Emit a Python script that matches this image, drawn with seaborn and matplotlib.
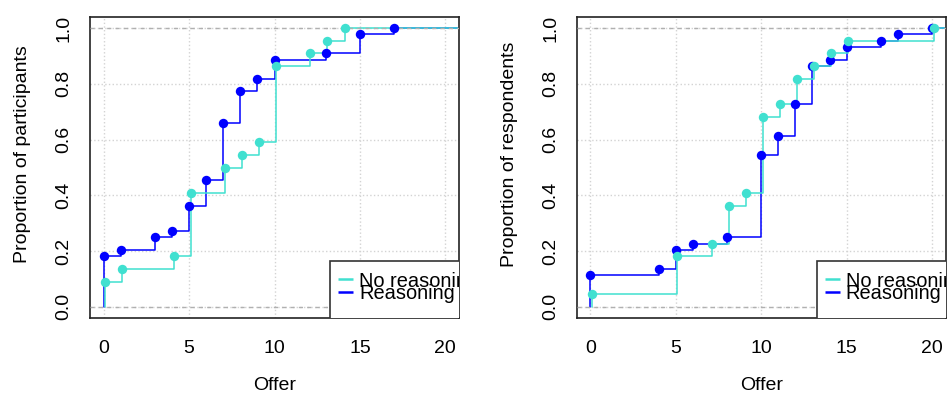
import numpy as np
import pandas as pd
import matplotlib
matplotlib.use("Agg")
import matplotlib.pyplot as plt
import seaborn as sns
from matplotlib.patches import Rectangle

# Offers and how many people sit at each offer, per condition
groups = ["No reasoning", "Reasoning"]
palette = {"No reasoning": "#40E0D0", "Reasoning": "#0000FF"}

proposer_offers_noreason = [0, 1, 4, 5, 7, 8, 9, 10, 12, 13, 14]
proposer_counts_noreason = [2, 1, 1, 5, 2, 1, 1, 6, 1, 1, 1]
proposer_offers_reason = [0, 1, 3, 4, 5, 6, 7, 8, 9, 10, 13, 15, 17]
proposer_counts_reason = [8, 1, 2, 1, 4, 4, 9, 5, 2, 3, 1, 3, 1]

responder_offers_noreason = [0, 5, 7, 8, 9, 10, 11, 12, 13, 14, 15, 20]
responder_counts_noreason = [1, 3, 1, 3, 1, 6, 1, 2, 1, 1, 1, 1]
responder_offers_reason = [0, 4, 5, 6, 8, 10, 11, 12, 13, 14, 15, 17, 18, 20]
responder_counts_reason = [5, 1, 3, 1, 1, 13, 3, 5, 6, 1, 2, 1, 1, 1]

ylabels = ["Proportion of participants", "Proportion of respondents"]
xlabel = "Offer"
x_ticks = [0, 5, 10, 15, 20]
y_ticks = [0.0, 0.2, 0.4, 0.6, 0.8, 1.0]

# small horizontal nudge so overlapping steps stay visible
nudge = {"No reasoning": 0.1, "Reasoning": 0.0}

panels = [
    {"No reasoning": (proposer_offers_noreason, proposer_counts_noreason),
     "Reasoning": (proposer_offers_reason, proposer_counts_reason)},
    {"No reasoning": (responder_offers_noreason, responder_counts_noreason),
     "Reasoning": (responder_offers_reason, responder_counts_reason)},
]

sns.set_theme(style="white")
plt.rcParams["font.family"] = ["Liberation Sans", "DejaVu Sans"]
plt.rcParams["font.size"] = 14

W, H = 949, 398
fig = plt.figure(figsize=(W / 100, H / 100), dpi=100)
ax_rects = [
    [90 / W, (H - 318) / H, 369 / W, 301 / H],
    [576.7 / W, (H - 318) / H, 369 / W, 301 / H],
]

XLIM = (-0.8, 20.8)
YLIM = (-0.04, 1.04)

for rect, pdata, ylab in zip(ax_rects, panels, ylabels):
    ax = fig.add_axes(rect)
    ax.set_xlim(*XLIM)
    ax.set_ylim(*YLIM)

    ax.grid(True, color="#D3D3D3", linestyle=":", linewidth=1.0)
    ax.set_axisbelow(True)

    for g in ["Reasoning", "No reasoning"]:
        offers, counts = pdata[g]
        raw = pd.DataFrame({"offer": np.repeat(np.asarray(offers, float) + nudge[g], counts)})
        sns.ecdfplot(data=raw, x="offer", ax=ax, color=palette[g], linewidth=1.1, zorder=2)
        # carry the top of the step out to the right edge
        xmax = raw["offer"].max()
        ax.plot([xmax, XLIM[1]], [1, 1], color=palette[g], linewidth=1.1, zorder=2)
        steps = pd.DataFrame({
            "offer": np.asarray(offers, float) + nudge[g],
            "prop": np.cumsum(counts) / np.sum(counts),
        })
        sns.scatterplot(data=steps, x="offer", y="prop", ax=ax, color=palette[g],
                        s=46, linewidth=0, zorder=4)

    for yv in (0, 1):
        ax.axhline(yv, color="#B0B0B0", linestyle=(0, (3, 3)), linewidth=1.0, zorder=3)

    ax.set_xticks(x_ticks)
    ax.set_yticks(y_ticks)
    ax.set_xticklabels([str(t) for t in x_ticks])
    ax.set_yticklabels([f"{t:.1f}" for t in y_ticks], rotation=90, va="center")
    ax.tick_params(axis="both", which="both", direction="out", length=7, width=1.1,
                   color="black", labelsize=14, labelcolor="black")
    ax.tick_params(axis="x", pad=9)
    ax.tick_params(axis="y", pad=5.5)

    ax.set_xlabel(xlabel, fontsize=14, color="black")
    ax.set_ylabel(ylab, fontsize=14, color="black")
    ax.xaxis.set_label_coords(0.5, -0.196)
    ax.yaxis.set_label_coords(-0.16, 0.545)

    for sp in ax.spines.values():
        sp.set_visible(True)
        sp.set_color("#222222")
        sp.set_linewidth(1.2)

    # legend box anchored at the lower right, cut off by the plot frame
    ax.add_patch(Rectangle((0.650, -0.1), 0.6, 0.29, transform=ax.transAxes,
                           facecolor="white", edgecolor="#333333", linewidth=1.2, zorder=5))
    rows = [("No reasoning", 0.104), ("Reasoning", 0.062)]
    for label, yb in rows:
        ax.plot([0.672, 0.713], [yb + 0.024, yb + 0.024], transform=ax.transAxes,
                color=palette[label], linewidth=1.8, zorder=6, solid_capstyle="butt")
        t = ax.text(0.729, yb, label, transform=ax.transAxes, fontsize=14.4,
                    ha="left", va="baseline", color="black", zorder=6)
        t.set_clip_box(ax.bbox)
        t.set_clip_on(True)

fig.savefig("out.png", dpi=100)
